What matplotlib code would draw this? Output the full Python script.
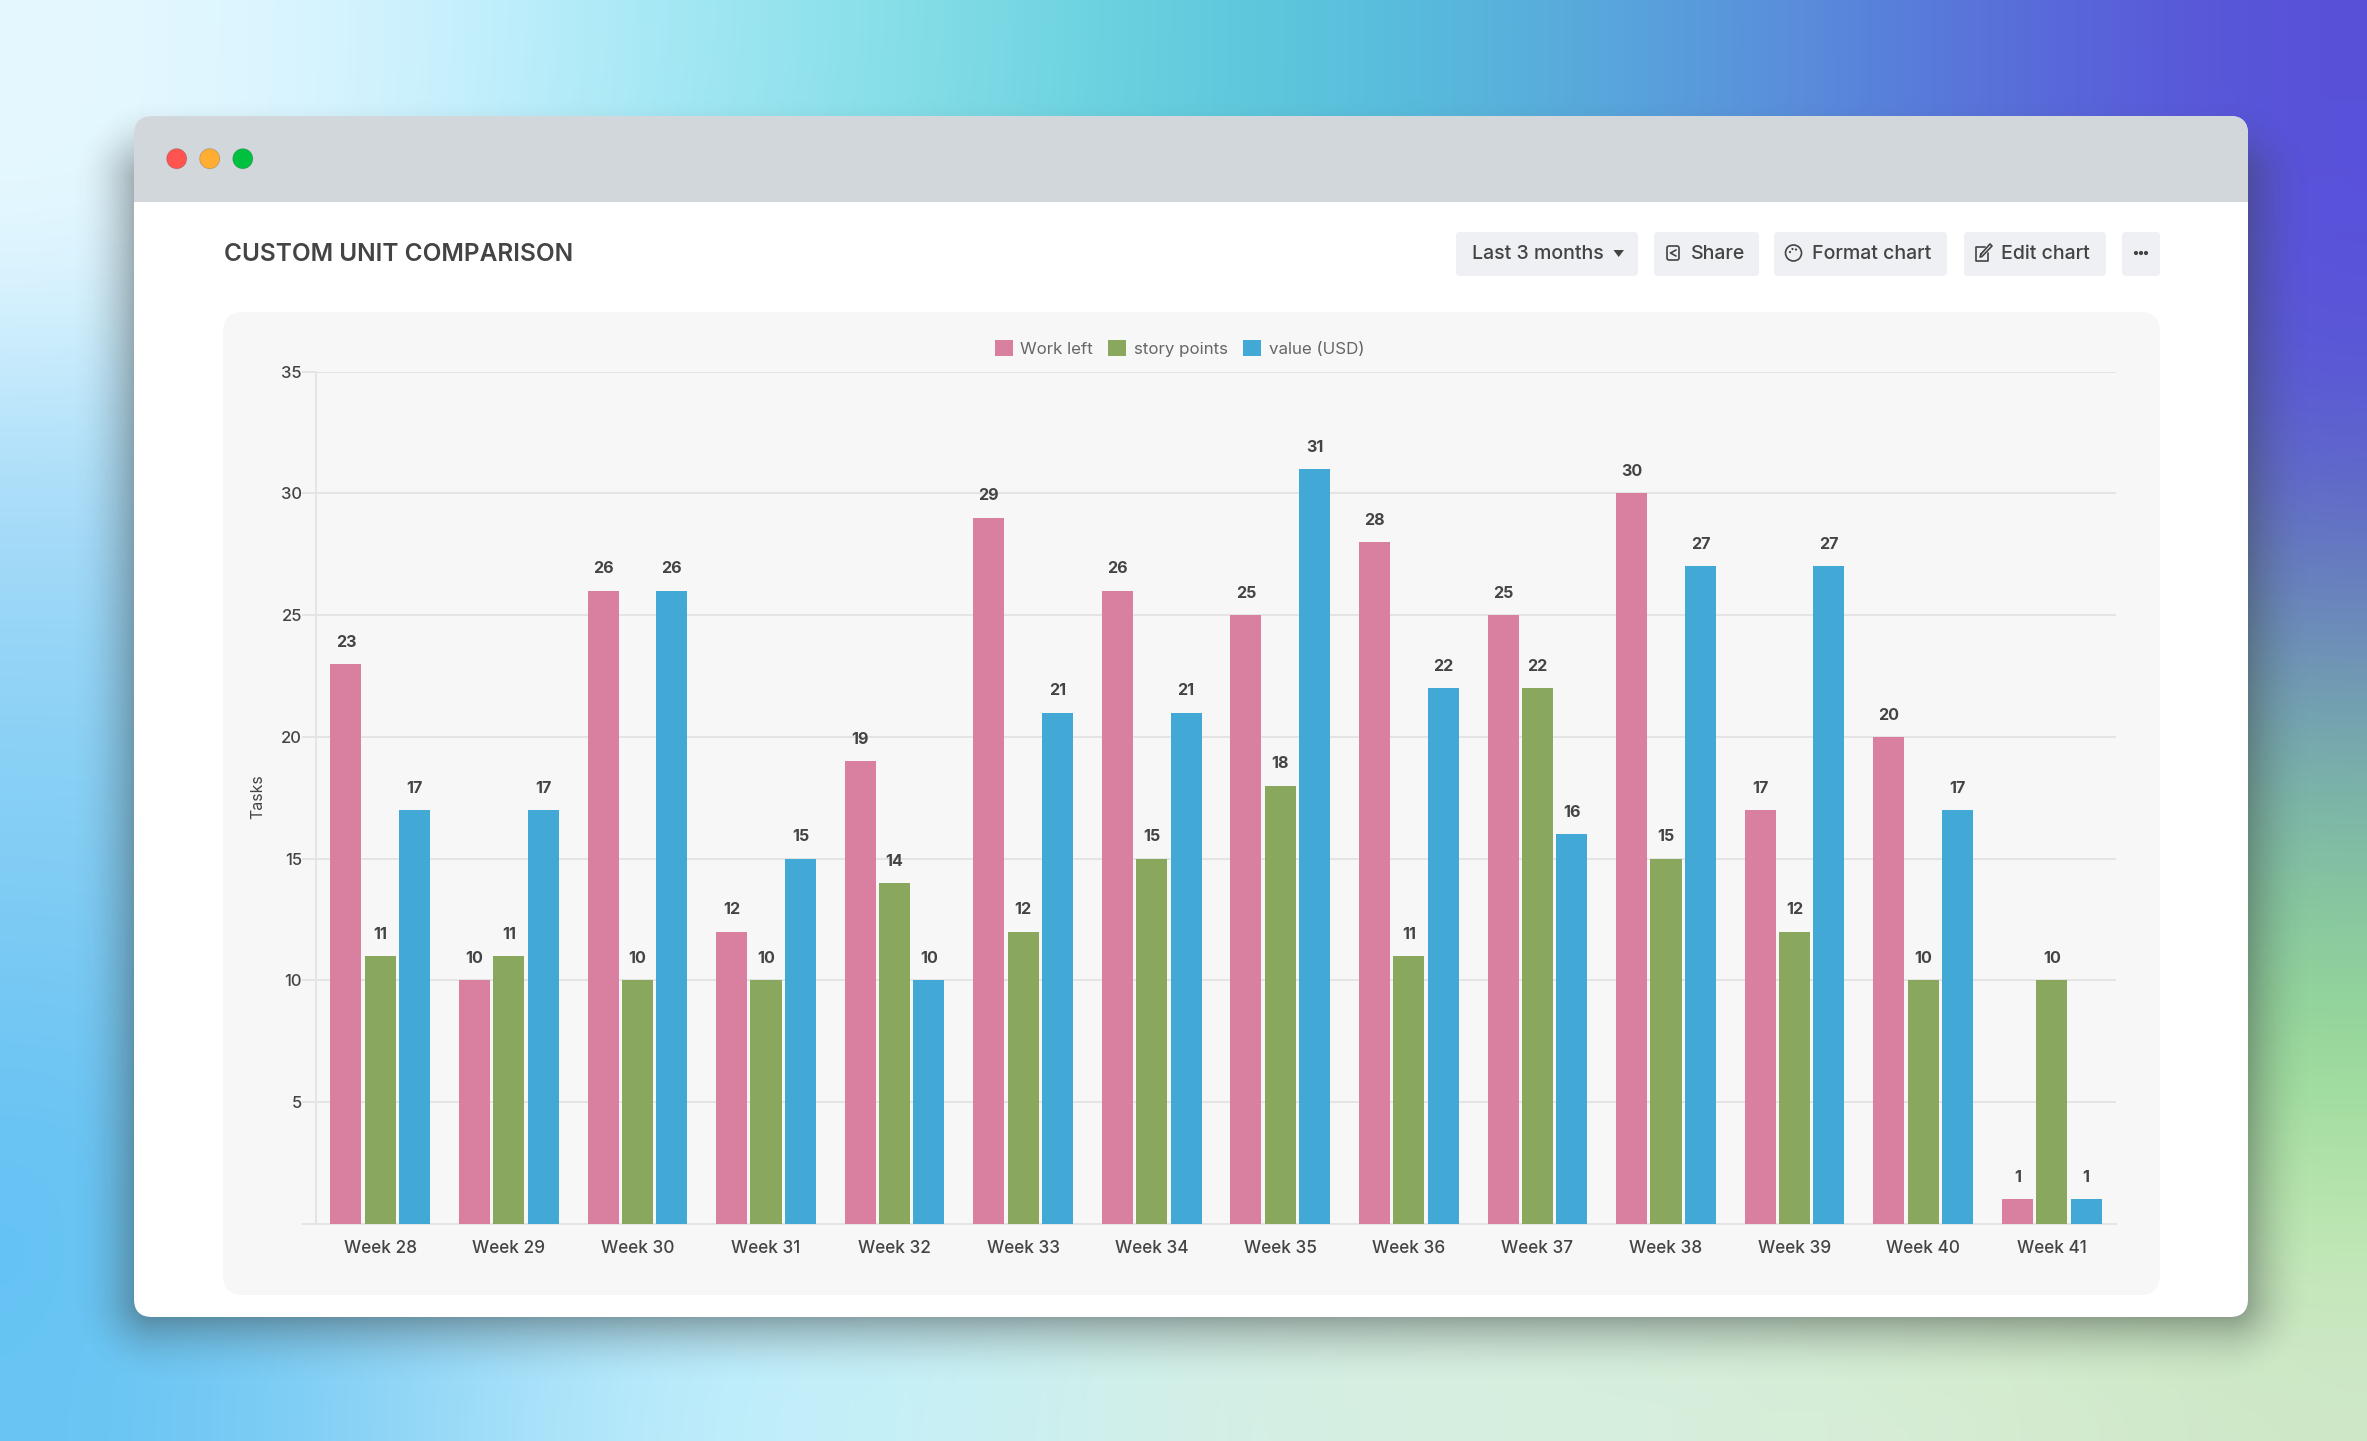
"""
plot.py - Custom unit comparison bar chart inside a mock app window.
Everything outside the chart axes is laid out in image pixels.
"""

import numpy as np
import matplotlib
matplotlib.use('Agg')
import matplotlib.pyplot as plt
from matplotlib.colors import to_rgb
from matplotlib.patches import Circle, FancyBboxPatch, Polygon, Rectangle

# ----- Chart data -----
WEEKS = ['Week 28', 'Week 29', 'Week 30', 'Week 31', 'Week 32', 'Week 33', 'Week 34',
         'Week 35', 'Week 36', 'Week 37', 'Week 38', 'Week 39', 'Week 40', 'Week 41']
WORK_LEFT = [23, 10, 26, 12, 19, 29, 26, 25, 28, 25, 30, 17, 20, 1]
STORY_POINTS = [11, 11, 10, 10, 14, 12, 15, 18, 11, 22, 15, 12, 10, 10]
VALUE_USD = [17, 17, 26, 15, 10, 21, 21, 31, 22, 16, 27, 27, 17, 1]
SERIES_NAMES = ['Work left', 'story points', 'value (USD)']
SERIES_COLORS = ['#D97F9F', '#89A85E', '#42A9D7']
Y_TICKS = [0, 5, 10, 15, 20, 25, 30, 35]

# ----- Backdrop colours, coarse grid that gets smoothed by imshow -----
# most of the inner rows sit behind the window
BACKDROP = [
    ['#E6F8FF', '#D2F3FF', '#A5E8F6', '#84DFE6', '#60CCDC', '#56BADC', '#5A9ADC', '#5874DA', '#5850D8'],
    ['#E6F8FF', '#D0F2FE', '#A0E6F4', '#80DCE6', '#60CCDC', '#56BADC', '#5A9ADC', '#5874DA', '#5A50DC'],
    ['#BCE6FB', '#B0E4F8', '#A0E0F0', '#88D8E4', '#70CCD8', '#68BCD0', '#6AA8CC', '#6480CC', '#5A58D4'],
    ['#A0D8F8', '#A0D8F4', '#98D8EC', '#90D8E0', '#84D0D0', '#7CC4C0', '#74B4BC', '#6C98BC', '#6678C0'],
    ['#8CD2F6', '#90D4F4', '#98D8EC', '#A0DCE0', '#98D8C8', '#90D4B8', '#84CCB0', '#7CBCB0', '#74A4B0'],
    ['#80CCF4', '#88D0F4', '#98D8F0', '#A8E0E4', '#A8E0D0', '#A0DCB8', '#94D8A8', '#8CD0A0', '#84C4A0'],
    ['#70C6F4', '#84D0F4', '#A0DCF4', '#B4E6EC', '#B8E6D8', '#B0E4C0', '#A8E0A8', '#A0DCA0', '#96D898'],
    ['#62C2F3', '#88D2F5', '#B0E6F8', '#C2EEF4', '#CCEEE4', '#CEEEDC', '#CCEED0', '#C4EAB8', '#B8E6AC'],
    ['#66C4F3', '#90D4F6', '#BFEEFD', '#C6F0F8', '#D4EFE6', '#D8EFE0', '#D6EEDC', '#D8ECD4', '#CFE8C8'],
]

FONT = 'Inter'
TEXT_DARK = '#444444'
GRID_COLOR = '#E4E4E4'
W, H = 2367, 1441

plt.rcParams.update({
    'font.family': [FONT, 'DejaVu Sans'],
    'axes.spines.top': False,
    'axes.spines.right': False,
})


def rounded(x0, y0, x1, y1, radius, **kwargs):
    return FancyBboxPatch((x0 + radius, y0 + radius), x1 - x0 - 2 * radius, y1 - y0 - 2 * radius,
                          boxstyle=f'round,pad={radius},rounding_size={radius}',
                          linewidth=0, **kwargs)


def shadow_layer(x0, y0, x1, y1, blur, strength):
    # soft falloff from a box distance, no blur library around
    xs, ys = np.meshgrid(np.arange(0, W, 2), np.arange(0, H, 2))
    cx, cy = (x0 + x1) / 2, (y0 + y1) / 2
    dx = np.abs(xs - cx) - (x1 - x0) / 2
    dy = np.abs(ys - cy) - (y1 - y0) / 2
    dist = np.hypot(np.maximum(dx, 0), np.maximum(dy, 0))
    alpha = strength * np.clip(1 - dist / blur, 0, 1) ** 2
    layer = np.zeros(xs.shape + (4,))
    layer[..., :3] = to_rgb('#3A3F3F')
    layer[..., 3] = alpha
    return layer


def draw_backdrop(ax):
    grid = np.array([[to_rgb(c) for c in row] for row in BACKDROP])
    ax.imshow(grid, extent=(0, W, H, 0), aspect='auto', interpolation='bicubic', zorder=0)
    ax.imshow(shadow_layer(154, 180, 2228, 1300, 85, 0.66), extent=(0, W, H, 0),
              aspect='auto', interpolation='bilinear', zorder=1)


def draw_window(ax):
    window = rounded(134, 116, 2248, 1317, 18, facecolor='white', zorder=2)
    ax.add_patch(window)
    bar = Rectangle((134, 116), 2114, 86, facecolor='#D2D7DB', linewidth=0, zorder=3)
    ax.add_patch(bar)
    bar.set_clip_path(window)
    for x, color in zip([176.7, 209.7, 242.8], ['#FF5450', '#FFAE33', '#00C040']):
        ax.add_patch(Circle((x, 158.7), 10, facecolor=color, edgecolor='#00000030',
                            linewidth=0.6, zorder=4))

    ax.text(223.5, 254.5, 'CUSTOM UNIT COMPARISON', fontsize=17.6, fontweight='semibold',
            color=TEXT_DARK, va='center', ha='left', zorder=4)
    # chart panel
    ax.add_patch(rounded(223, 312, 2160, 1295, 20, facecolor='#F7F7F7', zorder=2))


def draw_buttons(ax):
    for x0, x1 in [(1456, 1638), (1654, 1759), (1774, 1947), (1964, 2106), (2122, 2160)]:
        ax.add_patch(rounded(x0, 232, x1, 276, 4, facecolor='#EEF0F3', zorder=3))
    style = dict(fontsize=14.1, fontweight='medium', color=TEXT_DARK, va='center', ha='left', zorder=4)
    ax.text(1472.5, 254, 'Last 3 months', **style)
    ax.text(1690.5, 254, 'Share', **style)
    ax.text(1812, 254, 'Format chart', **style)
    ax.text(2001, 254, 'Edit chart', **style)
    ax.add_patch(Polygon([(1613.5, 250), (1624, 250), (1618.7, 257)], facecolor=TEXT_DARK, zorder=4))

    line = dict(color=TEXT_DARK, lw=1.2, zorder=4, solid_capstyle='round')
    # share icon
    ax.add_patch(FancyBboxPatch((1667, 246), 12, 14, boxstyle='round,pad=0,rounding_size=2',
                                facecolor='none', edgecolor=TEXT_DARK, linewidth=1.2, zorder=4))
    ax.plot([1676, 1670.5, 1676], [250, 253, 256], **line)
    # palette icon
    ax.add_patch(Circle((1793.5, 253), 8, facecolor='none', edgecolor=TEXT_DARK, linewidth=1.2, zorder=4))
    for dx, dy in [(-3.5, -1), (-1, -4), (2.5, -3.5)]:
        ax.add_patch(Circle((1793.5 + dx, 253 + dy), 1.1, facecolor=TEXT_DARK, zorder=4))
    # edit icon
    ax.plot([1985, 1976, 1976, 1988, 1988], [247, 247, 261, 261, 253], **line)
    ax.plot([1981, 1980, 1982, 1992, 1990, 1981], [254, 257, 256.5, 246, 244, 254], **line)
    # more dots
    for dx in [-5, 0, 5]:
        ax.add_patch(Circle((2141 + dx, 253), 2.1, facecolor=TEXT_DARK, zorder=4))


def draw_chart(fig):
    left, right, top, bottom = 316, 2116, 371.7, 1223.7
    ax = fig.add_axes([left / W, 1 - bottom / H, (right - left) / W, (bottom - top) / H])
    ax.patch.set_alpha(0)

    positions = np.arange(len(WEEKS))
    bar_width = 31 / 128.57
    pitch = 34.4 / 128.57
    all_values = [WORK_LEFT, STORY_POINTS, VALUE_USD]
    for i, (values, name, color) in enumerate(zip(all_values, SERIES_NAMES, SERIES_COLORS)):
        bars = ax.bar(positions + (i - 1) * pitch, values, bar_width, color=color, label=name, zorder=3)
        for bar, value in zip(bars, values):
            ax.annotate(str(value), xy=(bar.get_x() + bar.get_width() / 2, value),
                        xytext=(0, 15.7), textcoords='offset points', ha='center', va='center',
                        fontsize=11.6, fontweight='bold', color=TEXT_DARK, annotation_clip=False)

    ax.set_xlim(-0.5, len(WEEKS) - 0.5)
    ax.set_ylim(0, 35)
    ax.set_xticks(positions)
    ax.set_xticklabels(WEEKS, fontsize=12.4, fontweight='medium', color=TEXT_DARK)
    ax.set_yticks(Y_TICKS)
    ax.set_yticklabels([''] + [str(t) for t in Y_TICKS[1:]], fontsize=12, fontweight='medium', color=TEXT_DARK)
    ax.tick_params(axis='x', length=0, pad=11.5)
    ax.tick_params(axis='y', length=10, width=1.4, color=GRID_COLOR, pad=0)
    ax.grid(axis='y', color=GRID_COLOR, linewidth=1.4, zorder=0)
    ax.set_axisbelow(True)
    for side in ['left', 'bottom']:
        ax.spines[side].set_color(GRID_COLOR)
        ax.spines[side].set_linewidth(1.4)

    fig.text(257.5 / W, 1 - 797 / H, 'Tasks', rotation=90, fontsize=11.4, color=TEXT_DARK,
             ha='center', va='center')

    legend = ax.legend(loc='center', bbox_to_anchor=(1179.5 / W, 1 - 348.5 / H),
                       bbox_transform=fig.transFigure, ncol=3, frameon=False, fontsize=12.2,
                       handlelength=1.06, handleheight=1.06, handletextpad=0.45,
                       columnspacing=0.9, borderpad=0)
    for text in legend.get_texts():
        text.set_color('#666666')


def main():
    fig = plt.figure(figsize=(W / 100, H / 100), dpi=100)
    chrome = fig.add_axes([0, 0, 1, 1])
    chrome.axis('off')
    draw_backdrop(chrome)
    draw_window(chrome)
    draw_buttons(chrome)
    chrome.set_xlim(0, W)
    chrome.set_ylim(H, 0)
    draw_chart(fig)
    fig.savefig('out.png', dpi=100)
    plt.close(fig)


if __name__ == '__main__':
    main()
